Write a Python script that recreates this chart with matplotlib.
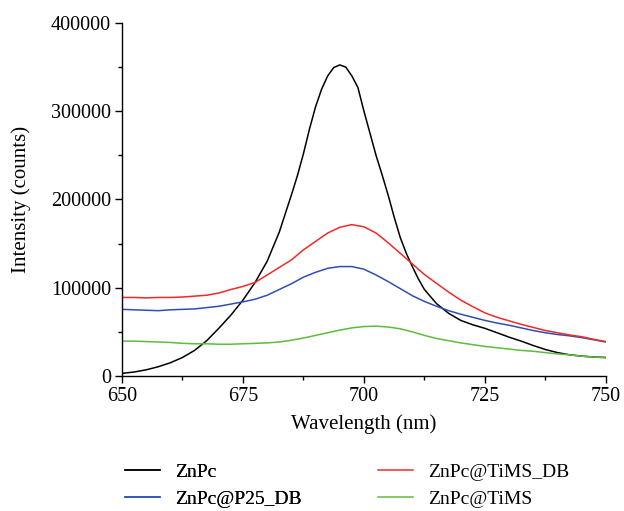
import numpy as np
import matplotlib
matplotlib.use("Agg")
import matplotlib.pyplot as plt
from matplotlib.ticker import MultipleLocator

plt.rcParams['font.family'] = ['Liberation Serif', 'DejaVu Serif']

# Common wavelength grid for the three composite samples
wavelength = np.arange(650, 750.01, 2.5)

# ZnPc has a sharp band, so it is sampled more finely around the maximum
wavelength_znpc = np.concatenate([np.arange(650, 685, 2.5),
                                  np.arange(685, 712.51, 1.25),
                                  np.arange(715, 750.01, 2.5)])
znpc = [3000, 4500, 7000, 10500, 15000, 21000, 29000, 40000, 54000, 69000,
        86000, 106000, 130000, 163000,
        205000, 227000, 252000, 280000, 305000, 325000, 340000, 349500, 352500,
        350000, 340000, 327000, 300000, 275000, 250000, 228000, 205000, 180000,
        157000, 139000, 124000, 110000, 98000,
        82000, 71000, 63000, 58000, 54000, 49000, 44000, 39500, 34500, 30000,
        26500, 24000, 22500, 21500, 21000]

znpc_tims_db = [89000, 89000, 88500, 89000, 89000, 89500, 90500, 91500, 94000, 98000,
                101500, 106000, 114500, 123000, 131500, 143000, 152500, 162000, 168500, 171500,
                169000, 162000, 151000, 139000, 127000, 115000, 105000, 95000, 86000, 78500,
                71500, 66500, 62500, 58500, 55000, 51500, 49000, 46500, 44500, 41500, 39000]

znpc_p25_db = [75500, 75000, 74500, 74000, 75000, 75500, 76000, 77500, 79000, 81500,
               84000, 87000, 91500, 98000, 104500, 112000, 117500, 122000, 124000, 124000,
               121000, 114500, 107000, 99000, 91000, 84500, 79000, 74000, 70000, 66500,
               63000, 60000, 57500, 54500, 51500, 49000, 47000, 45500, 43500, 41000, 38500]

znpc_tims = [39500, 39500, 39000, 38500, 38000, 37000, 36500, 36500, 36000, 36000,
             36500, 37000, 37500, 38500, 40500, 43000, 46000, 49000, 52000, 54500,
             56000, 56500, 55500, 53500, 50000, 46000, 42500, 40000, 37500, 35500,
             33500, 32000, 30500, 29000, 28000, 26500, 25000, 24000, 22500, 21500, 20500]

fs = 14.5

fig = plt.figure(figsize=(6.24, 5.11), dpi=100)
ax = fig.add_axes([0.1955, 0.2642, 0.7755, 0.6908])

l1, = ax.plot(wavelength_znpc, znpc, color='black', lw=1.1, label='ZnPc')
l2, = ax.plot(wavelength, znpc_p25_db, color='#2f4fb2', lw=1.1, label='ZnPc@P25_DB')
l3, = ax.plot(wavelength, znpc_tims_db, color='#f42828', lw=1.1, label='ZnPc@TiMS_DB')
l4, = ax.plot(wavelength, znpc_tims, color='#5cbd3c', lw=1.1, label='ZnPc@TiMS')

ax.set_xlim(650, 750)
ax.set_ylim(0, 400000)
ax.xaxis.set_major_locator(MultipleLocator(25))
ax.xaxis.set_minor_locator(MultipleLocator(12.5))
ax.yaxis.set_major_locator(MultipleLocator(100000))
ax.yaxis.set_minor_locator(MultipleLocator(50000))

for side in ('top', 'right'):
    ax.spines[side].set_visible(False)
for side in ('left', 'bottom'):
    ax.spines[side].set_linewidth(1.0)

ax.tick_params(which='major', direction='out', length=5, width=1.0, labelsize=fs, pad=3)
ax.tick_params(which='minor', direction='out', length=3, width=1.0)

ax.set_xlabel('Wavelength (nm)', fontsize=fs + 0.5, labelpad=6)
ax.set_ylabel('Intensity (counts)', fontsize=fs + 0.5, labelpad=14)

legend_kw = dict(loc='center left', frameon=False, fontsize=14, borderpad=0,
                 borderaxespad=0, handlelength=1.8, handletextpad=0.78,
                 labelspacing=0.5)
leg1 = fig.legend(handles=[l1, l2], bbox_to_anchor=(0.2003, 0.05), **legend_kw)
fig.add_artist(leg1)
fig.legend(handles=[l3, l4], bbox_to_anchor=(0.6058, 0.05), **legend_kw)

fig.savefig('out.png', dpi=100)
